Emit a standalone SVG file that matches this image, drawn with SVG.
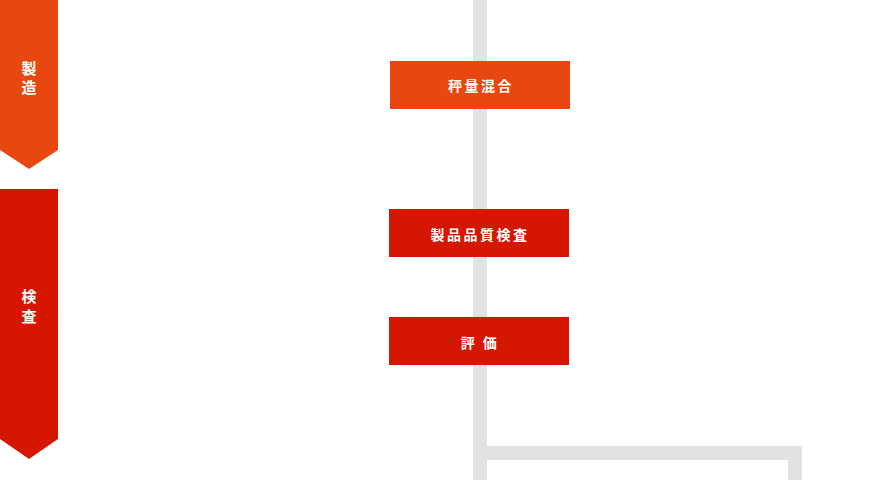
<svg xmlns="http://www.w3.org/2000/svg" width="890" height="480" viewBox="0 0 890 480">
<style>
.lbl{font-family:"Noto Sans CJK JP","Noto Sans CJK SC",sans-serif;font-weight:bold;fill:#ffffff;text-anchor:middle;dominant-baseline:central}
.box{font-size:14px;letter-spacing:2.5px}
.ban{font-size:15px}
.line{fill:#e2e2e2}
</style>
<rect width="890" height="480" fill="#ffffff"/>
<g id="connectors">
<rect class="line" x="473" y="0" width="14" height="480"/>
<rect class="line" x="473" y="446" width="329" height="14"/>
<rect class="line" x="788" y="446" width="14" height="34"/>
</g>
<g id="stage-seizo">
<polygon points="0,0 58,0 58,150 29,169 0,150" fill="#e94710"/>
<text class="lbl ban" x="29" y="67">製</text>
<text class="lbl ban" x="29" y="86">造</text>
</g>
<g id="stage-kensa">
<polygon points="0,189 58,189 58,439 29,459 0,439" fill="#d51600"/>
<text class="lbl ban" x="29" y="295">検</text>
<text class="lbl ban" x="29" y="315">査</text>
</g>
<g id="node-hyoryo">
<rect x="390" y="61" width="180" height="48" fill="#e94710"/>
<text class="lbl box" x="481" y="84.5">秤量混合</text>
</g>
<g id="node-kensa">
<rect x="389" y="209" width="180" height="48" fill="#d51600"/>
<text class="lbl box" x="480" y="233.5">製品品質検査</text>
</g>
<g id="node-hyoka">
<rect x="389" y="317" width="180" height="48" fill="#d51600"/>
<text class="lbl box" x="480" y="341.5">評 価</text>
</g>
</svg>
